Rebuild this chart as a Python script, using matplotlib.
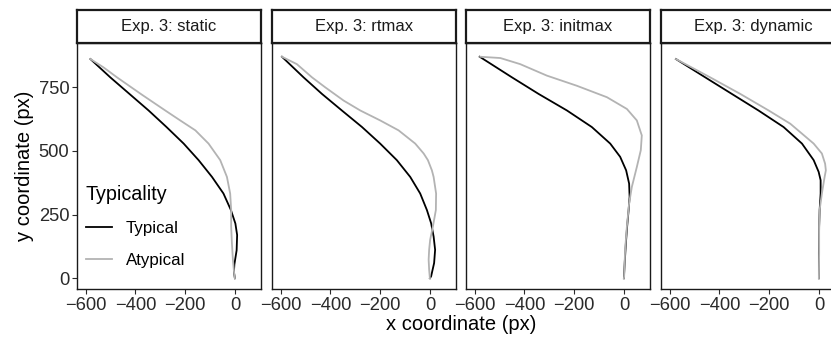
import matplotlib
matplotlib.use("Agg")
import matplotlib.pyplot as plt
from matplotlib.lines import Line2D

plt.rcParams['font.family'] = ['Liberation Sans', 'DejaVu Sans']

panels = ["Exp. 3: static", "Exp. 3: rtmax", "Exp. 3: initmax", "Exp. 3: dynamic"]
series_names = ["Typical", "Atypical"]
x_ticks = [-600, -400, -200, 0]
x_tick_labels = ["\u2212600", "\u2212400", "\u2212200", "0"]
y_ticks = [0, 250, 500, 750]

# static
static_typ_x = [-581, -501, -424, -347, -275, -206, -146, -92, -46, -16, 2, 9, 7, -2, -4, 0]
static_typ_y = [861, 789, 724, 659, 594, 529, 464, 398, 333, 268, 215, 170, 110, 55, 25, 0]
static_aty_x = [-581, -528, -474, -374, -280, -220, -159, -106, -59, -32, -19, -15, -15, -12, -8, -3, 0]
static_aty_y = [861, 828, 789, 721, 659, 620, 581, 529, 464, 398, 333, 268, 203, 138, 73, 20, 0]
# rtmax
rtmax_typ_x = [-595, -508, -434, -354, -273, -200, -133, -79, -39, -12, 5, 15, 21, 17, 5, 0]
rtmax_typ_y = [870, 789, 724, 659, 594, 529, 464, 398, 333, 268, 216, 164, 112, 60, 8, 0]
rtmax_aty_x = [-595, -535, -474, -421, -347, -280, -200, -126, -59, -25, -8, 8, 15, 25, 24, 12, 1, -3, -5, -3, 0]
rtmax_aty_y = [870, 841, 789, 750, 698, 659, 620, 581, 529, 490, 464, 424, 398, 333, 268, 203, 151, 112, 73, 34, 0]
# initmax
initmax_typ_x = [-580, -450, -343, -229, -129, -55, -15, 9, 21, 23, 19, 13, 8, 4, 1, 0]
initmax_typ_y = [870, 789, 724, 659, 594, 529, 477, 424, 372, 320, 268, 203, 138, 73, 20, 0]
initmax_aty_x = [-578, -497, -417, -310, -189, -68, 12, 52, 72, 68, 52, 32, 21, 12, 5, 1, 0]
initmax_aty_y = [870, 865, 841, 796, 756, 711, 665, 620, 561, 503, 437, 359, 294, 203, 112, 8, 0]
# dynamic
dynamic_typ_x = [-575, -457, -350, -243, -142, -68, -21, -1, 7, 7, 3, 1, 0, 0]
dynamic_typ_y = [861, 789, 724, 659, 594, 529, 464, 418, 385, 333, 268, 203, 100, 0]
dynamic_aty_x = [-575, -437, -316, -202, -115, -68, -21, 12, 25, 28, 23, 12, 3, 1, 1, 0]
dynamic_aty_y = [861, 789, 724, 659, 607, 568, 529, 490, 450, 424, 398, 333, 268, 203, 100, 0]

data = [
    ((static_typ_x, static_typ_y), (static_aty_x, static_aty_y)),
    ((rtmax_typ_x, rtmax_typ_y), (rtmax_aty_x, rtmax_aty_y)),
    ((initmax_typ_x, initmax_typ_y), (initmax_aty_x, initmax_aty_y)),
    ((dynamic_typ_x, dynamic_typ_y), (dynamic_aty_x, dynamic_aty_y)),
]
colors = ["#000000", "#B3B3B3"]

W, H = 831, 343
fig = plt.figure(figsize=(W / 100, H / 100), dpi=100)

lefts = [77, 272, 466, 661]
pw = 184
ptop, pbot = 43, 289
stop = 10
LW = 1.3

tick_col = "#2a2a2a"
axes = []
for i, (title, (typ, aty)) in enumerate(zip(panels, data)):
    ax = fig.add_axes([lefts[i] / W, (H - pbot) / H, pw / W, (pbot - ptop) / H])
    ax.plot(typ[0], typ[1], color=colors[0], lw=LW, solid_joinstyle='round')
    ax.plot(aty[0], aty[1], color=colors[1], lw=LW, solid_joinstyle='round')
    ax.set_xlim(-635, 105)
    ax.set_ylim(-42, 924)
    ax.set_xticks(x_ticks)
    ax.set_xticklabels(x_tick_labels)
    ax.tick_params(axis='x', length=3.5, width=0.8, color=tick_col, labelsize=13.2,
                   labelcolor=tick_col, pad=2)
    if i == 0:
        ax.set_yticks(y_ticks)
        ax.tick_params(axis='y', length=3.5, width=0.8, color=tick_col, labelsize=13.2,
                       labelcolor=tick_col, pad=2)
    else:
        ax.set_yticks([])
    for s in ax.spines.values():
        s.set_linewidth(1.0)
        s.set_color("#1a1a1a")
    # strip
    sax = fig.add_axes([lefts[i] / W, (H - ptop) / H, pw / W, (ptop - stop) / H])
    sax.set_xticks([])
    sax.set_yticks([])
    for s in sax.spines.values():
        s.set_linewidth(1.6)
        s.set_color("#1a1a1a")
    sax.text(0.5, 0.5, title, ha='center', va='center', fontsize=12,
             color="#1a1a1a", transform=sax.transAxes)
    axes.append(ax)

fig.text(461 / W, (H - 325) / H, "x coordinate (px)", ha='center', va='center', fontsize=14.5)
fig.text(25 / W, (H - 166) / H, "y coordinate (px)", ha='center', va='center',
         rotation=90, fontsize=14.5)

handles = [Line2D([], [], color=c, lw=LW) for c in colors]
leg = axes[0].legend(handles, series_names, title="Typicality", loc='upper left',
                     bbox_to_anchor=((86 - 77) / pw, (289 - 185) / 246),
                     frameon=False, fontsize=12.2, title_fontsize=14.2,
                     handlelength=1.55, handletextpad=0.8, labelspacing=1.0,
                     borderaxespad=0, borderpad=0, alignment='left')

fig.savefig("out.png", dpi=100)
